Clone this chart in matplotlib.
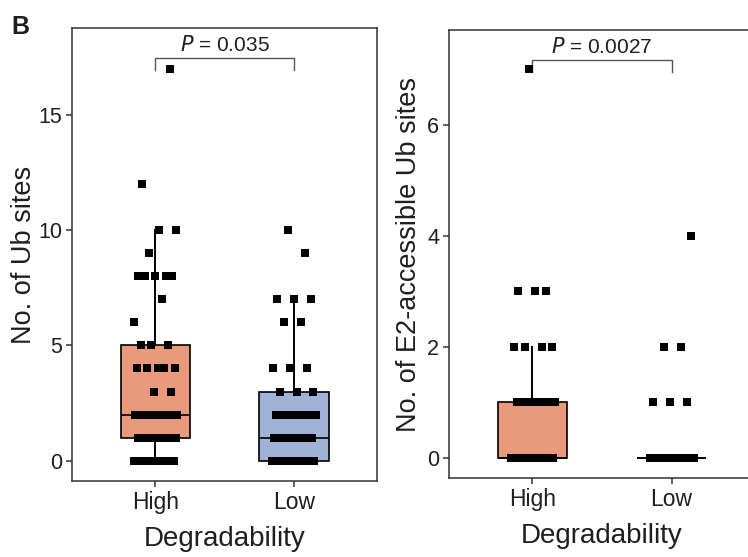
import numpy as np
import matplotlib
matplotlib.use('Agg')
import matplotlib.pyplot as plt

plt.rcParams['font.family'] = ['Liberation Sans', 'DejaVu Sans']

# ---- data (value levels and how many proteins sit at each level) ----
groups = ['High', 'Low']

ub_high_levels = [0, 1, 2, 3, 4, 5, 6, 7, 8, 9, 10, 12, 17]
ub_high_counts = [10, 8, 12, 2, 5, 3, 1, 1, 5, 1, 2, 1, 1]
ub_low_levels = [0, 1, 2, 3, 4, 6, 7, 9, 10]
ub_low_counts = [16, 10, 9, 3, 3, 2, 3, 1, 1]

e2_high_levels = [0, 1, 2, 3, 7]
e2_high_counts = [21, 11, 4, 3, 1]
e2_low_levels = [0, 1, 2, 4]
e2_low_counts = [30, 3, 2, 1]

p_ub = 'P = 0.035'
p_e2 = 'P = 0.0027'

box_colors = ['#E99A7C', '#A0B2D6']
text_col = '#1f1f1f'
spine_col = '#333333'


def expand(levels, counts):
    return np.repeat(levels, counts)


def jitter(values, center, width=0.16):
    # deterministic spread of points around a category centre
    xs = np.empty(len(values))
    for i in range(len(values)):
        frac = (i * 0.6180339887 + 0.31) % 1.0
        xs[i] = center + (frac - 0.5) * 2 * width
    return xs


def draw_panel(ax, data, ylim, yticks, ylabel, ptext, bracket_y, tip, ypad):
    bp = ax.boxplot(data, positions=[1, 2], widths=0.5, patch_artist=True,
                    showfliers=False, showcaps=False, whis=1.5,
                    medianprops=dict(color='black', lw=1.2),
                    whiskerprops=dict(color='black', lw=1.4),
                    boxprops=dict(edgecolor='black', lw=1.2))
    for patch, c in zip(bp['boxes'], box_colors):
        patch.set_facecolor(c)
    for k, vals in enumerate(data):
        ax.scatter(jitter(vals, k + 1), vals, marker='s', s=27,
                   color='black', linewidths=0, zorder=4)

    ax.set_xlim(0.4, 2.6)
    ax.set_ylim(*ylim)
    ax.set_xticks([1, 2])
    ax.set_xticklabels(groups)
    ax.set_yticks(yticks)
    ax.tick_params(axis='both', length=4, width=1.1, color=spine_col,
                   labelcolor=text_col, pad=3)
    ax.tick_params(axis='x', labelsize=16.5)
    ax.tick_params(axis='y', labelsize=15.5)
    for s in ax.spines.values():
        s.set_color(spine_col)
        s.set_linewidth(1.1)
    ax.set_xlabel('Degradability', fontsize=20, color=text_col, labelpad=9)
    ax.set_ylabel(ylabel, fontsize=19.5, color=text_col, labelpad=ypad)

    # significance bracket
    ax.plot([1, 1, 2, 2], [bracket_y - tip, bracket_y, bracket_y, bracket_y - tip],
            color='#555555', lw=1.0, clip_on=False)
    ax.annotate(ptext.replace('P =', '$\\it{P}$ ='), xy=(1.5, bracket_y),
                xytext=(0, 2), textcoords='offset points', ha='center',
                va='bottom', fontsize=15, color=text_col)


fig = plt.figure(figsize=(7.48, 5.57), dpi=100)

ax1 = fig.add_axes([0.0963, 0.1364, 0.4078, 0.8133])
draw_panel(ax1,
           [expand(ub_high_levels, ub_high_counts), expand(ub_low_levels, ub_low_counts)],
           (-0.88, 18.76), [0, 5, 10, 15], 'No. of Ub sites', p_ub, 17.45, 0.52, 1)

ax2 = fig.add_axes([0.6003, 0.1418, 0.4091, 0.8043])
draw_panel(ax2,
           [expand(e2_high_levels, e2_high_counts), expand(e2_low_levels, e2_low_counts)],
           (-0.36, 7.70), [0, 2, 4, 6], 'No. of E2-accessible Ub sites', p_e2, 7.16, 0.22, 4)

fig.text(0.015, 0.952, 'B', fontsize=18, fontweight='bold', color=text_col,
         ha='left', va='center')

fig.savefig('out.png', dpi=100)
